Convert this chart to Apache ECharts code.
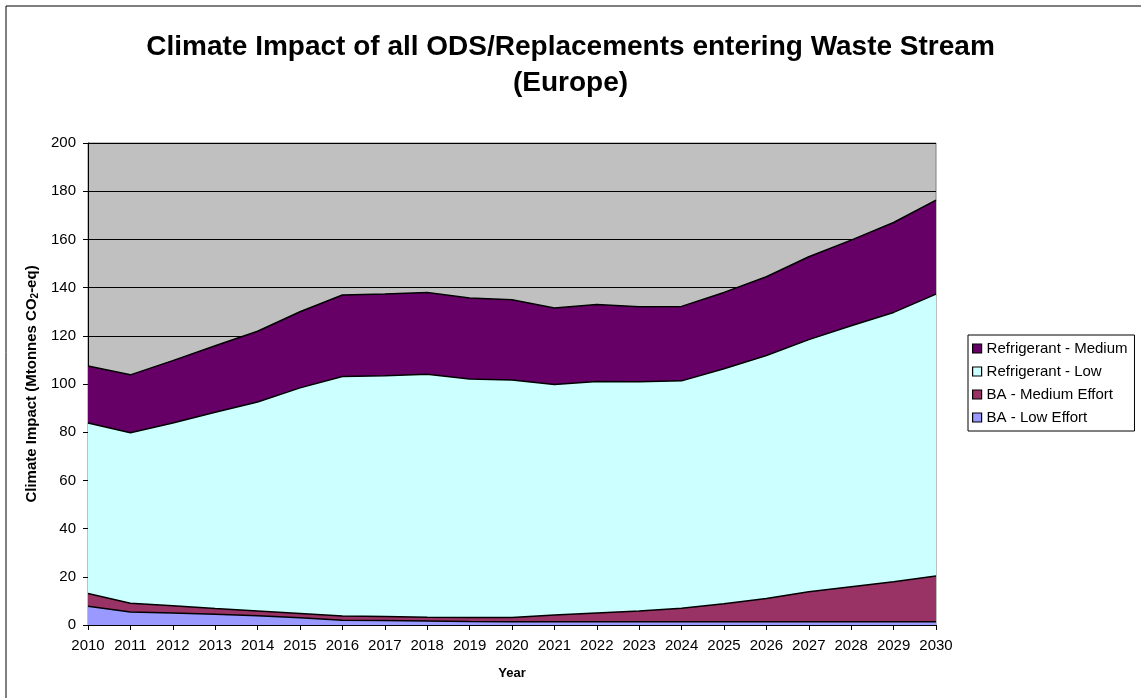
<!DOCTYPE html>
<html>
<head>
<meta charset="utf-8">
<script src="https://cdn.jsdelivr.net/npm/echarts@6/dist/echarts.min.js"></script>
<style>
  html, body { margin: 0; padding: 0; background: #fff; }
  #chart { width: 1141px; height: 698px; }
</style>
</head>
<body>
<div id="chart"></div>
<script>
var years = ['2010', '2011', '2012', '2013', '2014', '2015', '2016', '2017', '2018', '2019', '2020',
    '2021', '2022', '2023', '2024', '2025', '2026', '2027', '2028', '2029', '2030'];

// values per series (stacked, bottom to top)
var baLow = [7.8, 5.4, 5.0, 4.5, 3.8, 3.0, 2.0, 1.9, 1.7, 1.5, 1.4,
    1.3, 1.3, 1.3, 1.3, 1.3, 1.3, 1.3, 1.3, 1.3, 1.3];
var baMedium = [5.3, 3.6, 3.0, 2.3, 2.0, 1.8, 1.7, 1.6, 1.5, 1.6, 1.7,
    2.9, 3.7, 4.5, 5.7, 7.5, 9.7, 12.5, 14.6, 16.6, 19.0];
var refLow = [70.7, 70.8, 75.8, 81.5, 86.7, 93.6, 99.4, 99.9, 100.8, 99.0, 98.6,
    95.6, 96.0, 95.1, 94.3, 97.5, 100.8, 104.6, 108.3, 111.8, 117.0];
var refMedium = [23.7, 24.0, 25.9, 27.6, 29.4, 31.6, 33.8, 33.9, 34.0, 33.6, 33.3,
    31.7, 32.0, 31.2, 30.9, 31.7, 32.7, 34.4, 35.5, 37.3, 39.0];

var legendOrder = ['Refrigerant - Medium', 'Refrigerant - Low', 'BA - Medium Effort', 'BA - Low Effort'];

var myChart = echarts.init(document.getElementById('chart'));

function areaSeries(name, data, color) {
    return {
        name: name,
        type: 'line',
        stack: 'total',
        data: data,
        symbol: 'none',
        lineStyle: { color: '#000', width: 1.5 },
        itemStyle: { color: color, borderColor: '#000', borderWidth: 1 },
        areaStyle: { color: color, opacity: 1 }
    };
}

option = {
    backgroundColor: '#fff',
    animation: false,
    textStyle: { fontFamily: 'Liberation Sans, Arial, sans-serif', color: '#000' },
    graphic: [{
        type: 'rect',
        shape: { x: 6, y: 6, width: 1160, height: 720 },
        style: { fill: 'none', stroke: '#000', lineWidth: 1 },
        silent: true
    }],
    title: {
        text: 'Climate Impact of all ODS/Replacements entering Waste Stream\n(Europe)',
        left: 'center',
        top: 24,
        textStyle: {
            fontSize: 28,
            fontWeight: 'bold',
            lineHeight: 36,
            color: '#000'
        }
    },
    legend: {
        orient: 'vertical',
        left: 968,
        top: 335,
        data: legendOrder,
        icon: 'rect',
        itemWidth: 9,
        itemHeight: 9,
        itemGap: 8,
        padding: [6, 7, 6, 4],
        borderColor: '#000',
        borderWidth: 1,
        itemStyle: { borderColor: '#000', borderWidth: 1.2 },
        textStyle: { fontSize: 15, color: '#000', lineHeight: 15 }
    },
    grid: {
        left: 88,
        right: 205,
        top: 143,
        bottom: 73,
        show: true,
        backgroundColor: '#C0C0C0',
        borderColor: '#808080',
        borderWidth: 1
    },
    xAxis: {
        type: 'category',
        data: years,
        boundaryGap: false,
        name: 'Year',
        nameLocation: 'middle',
        nameGap: 42,
        nameTextStyle: { fontSize: 13, fontWeight: 'bold', color: '#000' },
        axisLine: { lineStyle: { color: '#000', width: 1 } },
        axisTick: { show: true, length: 5, lineStyle: { color: '#000' } },
        axisLabel: { fontSize: 15, color: '#000', margin: 13, interval: 0 },
        splitLine: { show: false }
    },
    yAxis: {
        type: 'value',
        min: 0,
        max: 200,
        interval: 20,
        name: '{b|Climate Impact (Mtonnes CO}{s|2}{b|-eq)}',
        nameLocation: 'middle',
        nameGap: 46,
        nameRotate: 90,
        nameTextStyle: {
            rich: {
                b: { fontSize: 15, fontWeight: 'bold', color: '#000' },
                s: { fontSize: 10, fontWeight: 'bold', color: '#000', verticalAlign: 'bottom', padding: [7, 0, 0, 0] }
            }
        },
        axisLine: { show: true, lineStyle: { color: '#000', width: 1 } },
        axisTick: { show: true, length: 5, lineStyle: { color: '#000' } },
        axisLabel: { fontSize: 15, color: '#000', margin: 12 },
        splitLine: { lineStyle: { color: '#000', width: 1 } }
    },
    series: [
        areaSeries('BA - Low Effort', baLow, '#9999FF'),
        areaSeries('BA - Medium Effort', baMedium, '#993366'),
        areaSeries('Refrigerant - Low', refLow, '#CCFFFF'),
        areaSeries('Refrigerant - Medium', refMedium, '#660066')
    ]
};
myChart.setOption(option);
</script>
</body>
</html>
